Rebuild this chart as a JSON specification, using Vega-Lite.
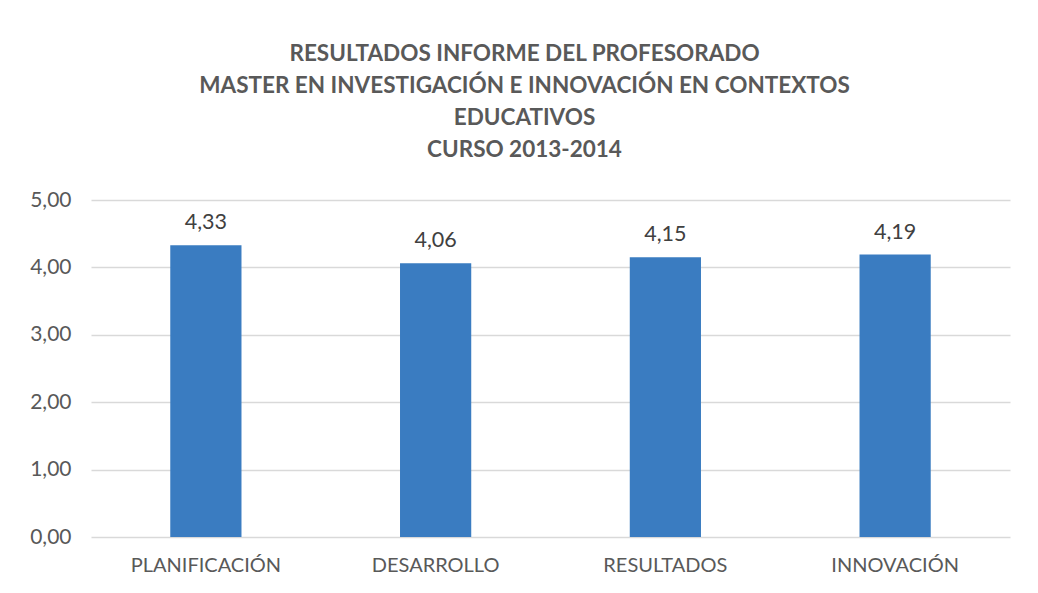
{
  "$schema": "https://vega.github.io/schema/vega-lite/v6.json",
  "width": 919,
  "height": 337,
  "autosize": {"type": "none"},
  "padding": {"left": 91, "top": 200, "right": 28, "bottom": 56},
  "background": "white",
  "config": {
    "locale": {"number": {"decimal": ",", "thousands": ".", "grouping": [3], "currency": ["", " €"]}},
    "view": {"stroke": null},
    "font": "Lato"
  },
  "title": {
    "text": ["RESULTADOS INFORME DEL PROFESORADO", "MASTER EN INVESTIGACIÓN E INNOVACIÓN EN CONTEXTOS", "EDUCATIVOS", "CURSO 2013-2014"],
    "font": "Lato",
    "fontSize": 22.5,
    "fontWeight": "bold",
    "color": "#595959",
    "lineHeight": 32,
    "anchor": "middle",
    "dx": -26,
    "offset": 28
  },
  "data": {
    "values": [
      {"categoria": "PLANIFICACIÓN", "valor": 4.33},
      {"categoria": "DESARROLLO", "valor": 4.06},
      {"categoria": "RESULTADOS", "valor": 4.15},
      {"categoria": "INNOVACIÓN", "valor": 4.19}
    ]
  },
  "encoding": {
    "x": {
      "field": "categoria",
      "type": "nominal",
      "sort": null,
      "scale": {"paddingInner": 0.69, "paddingOuter": 0.345},
      "axis": {
        "title": null,
        "labelAngle": 0,
        "domain": false,
        "ticks": false,
        "labelPadding": 18,
        "labelFont": "Lato",
        "labelFontSize": 20,
        "labelColor": "#595959"
      }
    },
    "y": {
      "field": "valor",
      "type": "quantitative",
      "scale": {"domain": [0, 5], "nice": false},
      "axis": {
        "title": null,
        "values": [0, 1, 2, 3, 4, 5],
        "format": ".2f",
        "domain": false,
        "ticks": false,
        "labelPadding": 20,
        "labelFont": "Lato",
        "labelFontSize": 21,
        "labelColor": "#595959",
        "gridColor": "#d9d9d9",
        "gridWidth": 1.5
      }
    }
  },
  "layer": [
    {"mark": {"type": "bar", "color": "#3a7cc1"}},
    {
      "mark": {"type": "text", "baseline": "alphabetic", "dy": -16, "font": "Lato", "fontSize": 21.5, "color": "#404040"},
      "encoding": {"text": {"field": "valor", "type": "quantitative", "format": ".2f"}}
    }
  ]
}
